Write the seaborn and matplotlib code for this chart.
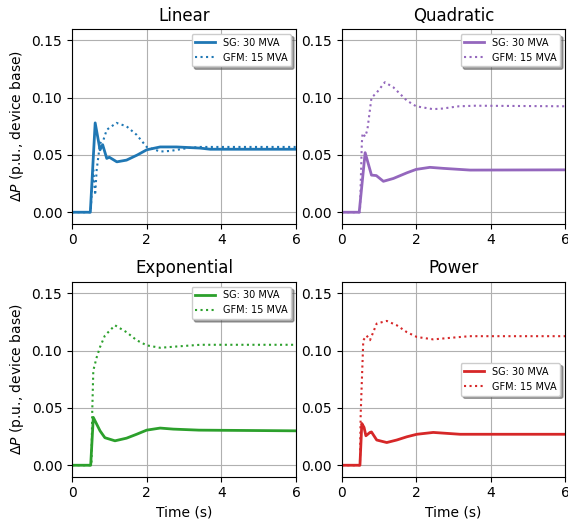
import matplotlib
matplotlib.use("Agg")
import matplotlib.pyplot as plt
import seaborn as sns
import pandas as pd

titles = ["Linear", "Quadratic", "Exponential", "Power"]
colors = ["#1f77b4", "#9467bd", "#2ca02c", "#d62728"]
legend_locs = ["upper right", "upper right", "upper right", "center right"]
sg_label = "SG: 30 MVA"
gfm_label = "GFM: 15 MVA"

# Linear
t_lin_sg = [0, 0.49, 0.62, 0.75, 0.82, 0.93, 1.0, 1.2, 1.46, 1.75, 2.0, 2.36, 2.8, 3.43, 3.7, 4.5, 6.0]
p_lin_sg = [0, 0, 0.078, 0.0545, 0.059, 0.047, 0.048, 0.044, 0.0455, 0.050, 0.0545, 0.057, 0.057, 0.056, 0.055, 0.055, 0.055]
t_lin_gfm = [0, 0.5, 0.53, 0.57, 0.62, 0.66, 0.75, 0.84, 0.93, 1.19, 1.46, 1.73, 2.0, 2.36, 2.63, 3.09, 3.43, 6.0]
p_lin_gfm = [0, 0, 0.0195, 0.037, 0.015, 0.037, 0.060, 0.063, 0.072, 0.078, 0.075, 0.0676, 0.057, 0.053, 0.0535, 0.056, 0.057, 0.057]

# Quadratic
t_quad_sg = [0, 0.47, 0.63, 0.8, 0.93, 1.12, 1.39, 1.75, 2.0, 2.37, 2.73, 3.45, 6.0]
p_quad_sg = [0, 0, 0.052, 0.0324, 0.032, 0.027, 0.0295, 0.0344, 0.0374, 0.0392, 0.0383, 0.0368, 0.037]
t_quad_gfm = [0, 0.49, 0.54, 0.56, 0.63, 0.69, 0.8, 0.93, 1.16, 1.39, 1.75, 2.0, 2.45, 2.7, 3.15, 3.6, 6.0]
p_quad_gfm = [0, 0, 0.060, 0.069, 0.066, 0.072, 0.100, 0.104, 0.1135, 0.109, 0.0975, 0.0925, 0.090, 0.0905, 0.0925, 0.093, 0.0925]

# Exponential
t_exp_sg = [0, 0.5, 0.57, 0.75, 0.88, 1.15, 1.46, 1.73, 2.0, 2.36, 2.71, 3.4, 6.0]
p_exp_sg = [0, 0, 0.0417, 0.030, 0.024, 0.0213, 0.0236, 0.027, 0.0306, 0.0324, 0.0315, 0.0306, 0.030]
t_exp_gfm = [0, 0.52, 0.54, 0.57, 0.66, 0.75, 0.88, 1.15, 1.46, 1.73, 2.0, 2.36, 2.8, 3.43, 6.0]
p_exp_gfm = [0, 0, 0.045, 0.0826, 0.094, 0.103, 0.113, 0.122, 0.116, 0.109, 0.1045, 0.1024, 0.1035, 0.105, 0.105]

# Power
t_pow_sg = [0, 0.49, 0.54, 0.6, 0.65, 0.76, 0.8, 0.94, 1.21, 1.48, 1.75, 2.02, 2.46, 3.18, 6.0]
p_pow_sg = [0, 0, 0.0364, 0.033, 0.0257, 0.0286, 0.029, 0.022, 0.0198, 0.022, 0.0248, 0.027, 0.0286, 0.027, 0.027]
t_pow_gfm = [0, 0.49, 0.51, 0.58, 0.67, 0.76, 0.94, 1.21, 1.48, 1.75, 2.02, 2.46, 2.9, 3.44, 6.0]
p_pow_gfm = [0, 0, 0.0447, 0.109, 0.113, 0.109, 0.1235, 0.1258, 0.122, 0.116, 0.1118, 0.1097, 0.111, 0.1125, 0.1125]

series = [
    (t_lin_sg, p_lin_sg, t_lin_gfm, p_lin_gfm),
    (t_quad_sg, p_quad_sg, t_quad_gfm, p_quad_gfm),
    (t_exp_sg, p_exp_sg, t_exp_gfm, p_exp_gfm),
    (t_pow_sg, p_pow_sg, t_pow_gfm, p_pow_gfm),
]

fig = plt.figure(figsize=(5.68, 5.23), dpi=100)
positions = [
    [0.1268, 0.5723, 0.3944, 0.3723],
    [0.6016, 0.5723, 0.3931, 0.3723],
    [0.1268, 0.0885, 0.3944, 0.3729],
    [0.6016, 0.0885, 0.3931, 0.3729],
]

for i in range(4):
    ax = fig.add_axes(positions[i])
    ts, ps, tg, pg = series[i]
    df_sg = pd.DataFrame({"t": ts, "p": ps})
    df_g = pd.DataFrame({"t": tg, "p": pg})
    sns.lineplot(data=df_sg, x="t", y="p", ax=ax, color=colors[i], lw=2.0,
                 label=sg_label, sort=False, estimator=None)
    sns.lineplot(data=df_g, x="t", y="p", ax=ax, color=colors[i], lw=1.5,
                 linestyle=":", label=gfm_label, sort=False, estimator=None)
    ax.set_xlim(0, 6)
    ax.set_ylim(-0.01, 0.16)
    ax.set_xticks([0, 2, 4, 6])
    ax.set_yticks([0.0, 0.05, 0.10, 0.15])
    ax.grid(True, color="#b0b0b0", lw=0.8)
    ax.set_title(titles[i], fontsize=12)
    if i >= 2:
        ax.set_xlabel("Time (s)", fontsize=10)
    else:
        ax.set_xlabel("")
    if i % 2 == 0:
        ax.set_ylabel(r"$\Delta P$ (p.u., device base)", fontsize=10)
    else:
        ax.set_ylabel("")
    ax.legend(loc=legend_locs[i], fontsize=7, shadow=True)

fig.savefig("out.png", dpi=100)
